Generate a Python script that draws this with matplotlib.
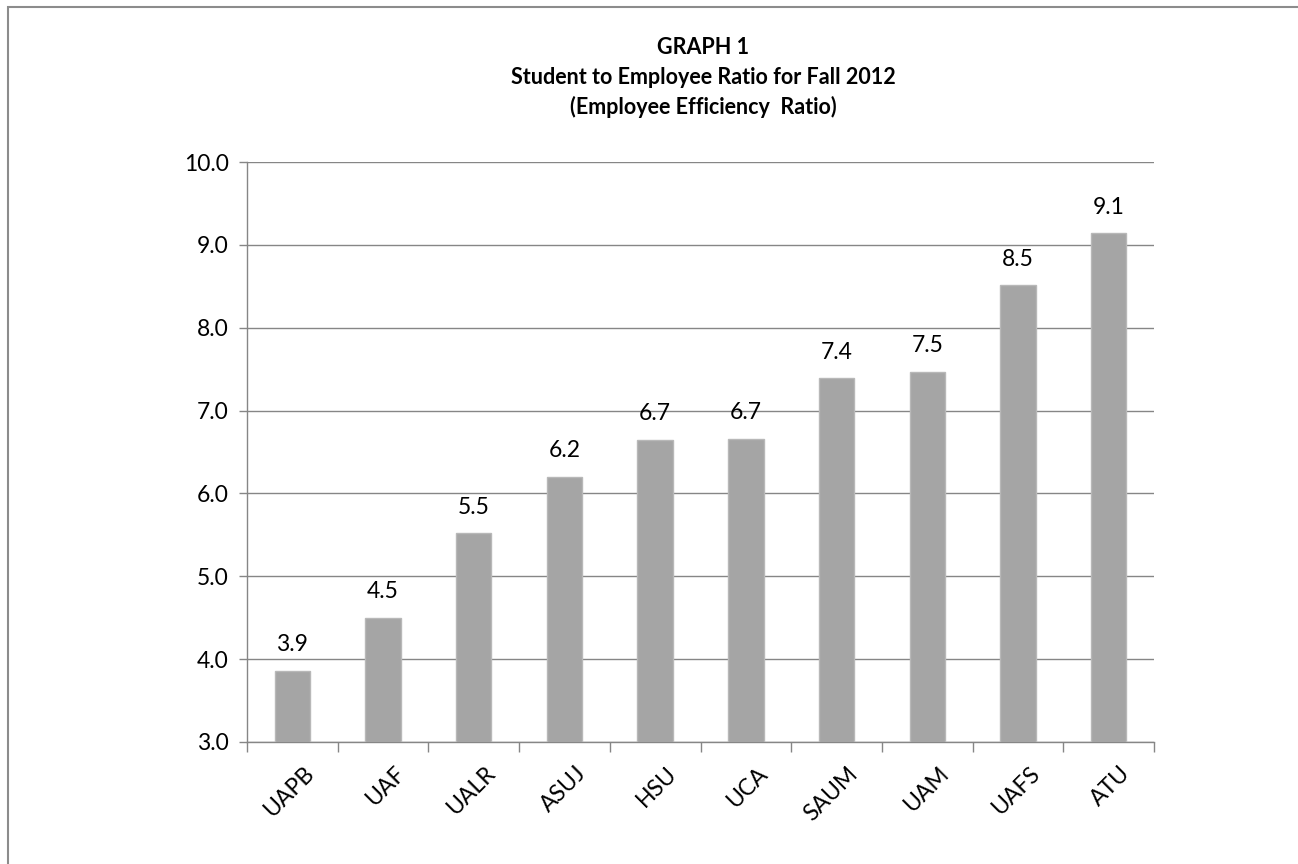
import matplotlib
matplotlib.use("Agg")
import matplotlib.pyplot as plt
from matplotlib.patches import Rectangle

# data
schools = ["UAPB", "UAF", "UALR", "ASUJ", "HSU", "UCA", "SAUM", "UAM", "UAFS", "ATU"]
ratios = [3.86, 4.50, 5.52, 6.20, 6.65, 6.66, 7.39, 7.47, 8.51, 9.14]
yticks = [3.0, 4.0, 5.0, 6.0, 7.0, 8.0, 9.0, 10.0]
title_lines = ["GRAPH 1", "Student to Employee Ratio for Fall 2012", "(Employee Efficiency  Ratio)"]

plt.rcParams['font.family'] = ['Lato', 'DejaVu Sans']

W, H = 1298, 864
fig = plt.figure(figsize=(W / 100, H / 100), dpi=100)
ax = fig.add_axes([247 / W, 1 - 742 / H, (1154 - 247) / W, (742 - 162) / H])

grid_col = "#868686"
fs = 16.5
x = list(range(len(schools)))
ax.bar(x, ratios, width=0.39, color="#a5a5a5", edgecolor="#b8b8b8", linewidth=1, zorder=3)

for xi, v in zip(x, ratios):
    ax.annotate(f"{v:.1f}", (xi, v), xytext=(0, 14), textcoords="offset points",
                ha="center", va="baseline", fontsize=fs, color="black")

ax.set_xlim(-0.5, len(schools) - 0.5)
ax.set_ylim(3.0, 10.0)
ax.set_yticks(yticks)
ax.set_yticklabels([f"{t:.1f}" for t in yticks], fontsize=fs)
ax.yaxis.grid(True, color=grid_col, linewidth=1, zorder=0)
ax.tick_params(axis="y", length=6, width=1, color=grid_col, pad=7)

# categories sit between the ticks, Excel style
ax.set_xticks([i - 0.5 for i in range(len(schools) + 1)])
ax.set_xticklabels([])
ax.set_xticks([i + 0.12 for i in x], minor=True)
ax.set_xticklabels(schools, minor=True, rotation=45, ha="right", rotation_mode="anchor",
                   fontsize=fs)
ax.tick_params(axis="x", which="major", length=7, width=1, color=grid_col)
ax.tick_params(axis="x", which="minor", length=0, pad=15)

for s in ["top", "right"]:
    ax.spines[s].set_visible(False)
for s in ["left", "bottom"]:
    ax.spines[s].set_color(grid_col)
    ax.spines[s].set_linewidth(1)

# title block
for i, line in enumerate(title_lines):
    fig.text(703 / W, 1 - (47 + i * 30) / H, line, ha="center", va="center",
             fontsize=15.5, fontweight="bold")

# frame of the embedded chart, cut off at right and bottom
fig.patches.append(Rectangle((7.5 / W, -0.1), 1.2, 1 - 7.5 / H + 0.1, transform=fig.transFigure,
                             fill=False, edgecolor="#8c8c8c", linewidth=1.5))

fig.savefig("out.png", dpi=100)
